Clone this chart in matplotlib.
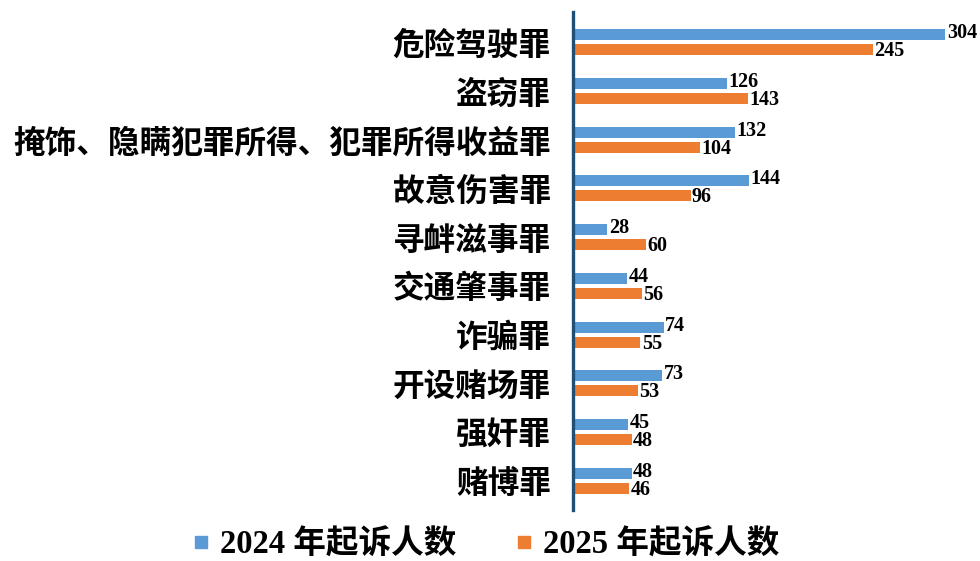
import matplotlib
matplotlib.use("Agg")
import matplotlib.pyplot as plt
from matplotlib.lines import Line2D
import numpy as np

categories = ["危险驾驶罪", "盗窃罪", "掩饰、隐瞒犯罪所得、犯罪所得收益罪", "故意伤害罪",
              "寻衅滋事罪", "交通肇事罪", "诈骗罪", "开设赌场罪", "强奸罪", "赌博罪"]
values_2024 = [304, 126, 132, 144, 28, 44, 74, 73, 45, 48]
values_2025 = [245, 143, 104, 96, 60, 56, 55, 53, 48, 46]
series_names = ["2024 年起诉人数", "2025 年起诉人数"]
colors = ["#5B9BD5", "#ED7D31"]

plt.rcParams["font.family"] = ["Liberation Serif", "Noto Sans CJK SC", "DejaVu Sans"]

fig = plt.figure(figsize=(9.8, 5.61), dpi=100)
ax = fig.add_axes([573 / 980, 1 - 510 / 561, (960 - 573) / 980, (510 - 12) / 561])

y = np.arange(len(categories))
h, off = 0.225, 0.155
b1 = ax.barh(y - off, values_2024, height=h, color=colors[0])
b2 = ax.barh(y + off, values_2025, height=h, color=colors[1])

# small vertical nudge keeps the paired labels from touching
for bars, vals, dy in [(b1, values_2024, 1.0), (b2, values_2025, -1.0)]:
    for rect, v in zip(bars, vals):
        ax.annotate(str(v), (rect.get_width(), rect.get_y() + rect.get_height() / 2),
                    xytext=(1, dy), textcoords="offset points",
                    ha="left", va="center", fontsize=14.5, fontweight="bold",
                    family=["Liberation Serif"])

ax.set_xlim(0, 316)
ax.set_ylim(9.6, -0.62)
ax.set_yticks(y)
ax.set_yticklabels(categories, fontsize=22.8, fontweight="bold",
                   family=["Noto Sans CJK SC"])
ax.tick_params(axis="y", length=0, pad=16)
ax.set_xticks([])
for s in ["top", "right", "bottom"]:
    ax.spines[s].set_visible(False)
ax.spines["left"].set_color("#1F4E79")
ax.spines["left"].set_linewidth(2.4)

handles = [Line2D([], [], marker="s", linestyle="none", markersize=8, color=c) for c in colors]
fig.legend(handles=handles, labels=series_names, loc="center",
           bbox_to_anchor=(0.496, 1 - 545 / 561), ncol=2, frameon=False,
           handlelength=0.5, handletextpad=0.35, columnspacing=1.8,
           borderpad=0.1, prop={"size": 23.5, "weight": "bold"})

fig.savefig("out.png", dpi=100)
